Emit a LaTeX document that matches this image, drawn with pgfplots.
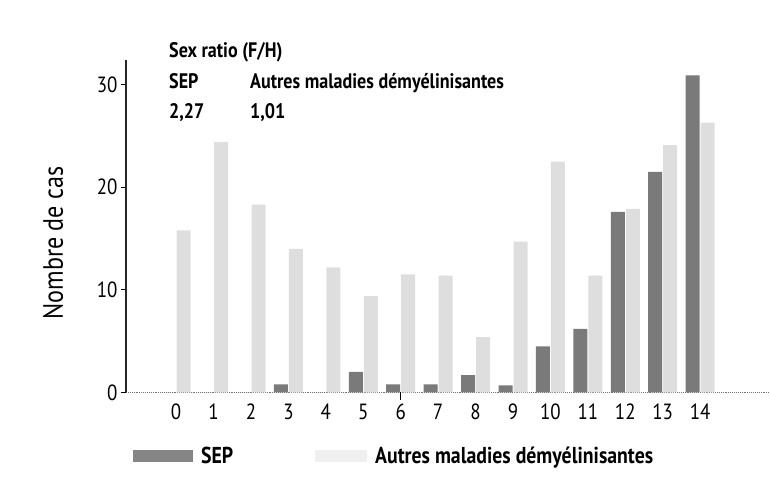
\documentclass[border=0pt]{standalone}
\usepackage{fontspec}
\setmainfont{PT Sans}[FakeStretch=0.86]
\usepackage{pgfplots}
\pgfplotsset{compat=1.18}
\pgfplotstableread{
x sep autres
0 0 15.8
1 0 24.4
2 0 18.3
3 0.8 14.0
4 0 12.2
5 2.0 9.4
6 0.8 11.5
7 0.8 11.4
8 1.7 5.4
9 0.7 14.7
10 4.5 22.5
11 6.2 11.4
12 17.6 17.9
13 21.5 24.1
14 30.9 26.3
}\datatable
\begin{document}
\begin{tikzpicture}
\useasboundingbox (-126pt,-93.5pt) rectangle (644pt,392.5pt);
\begin{axis}[
  at={(0pt,0pt)}, anchor=south west,
  width=643pt, height=332.5pt, scale only axis,
  xmin=-1.34, xmax=15.84, ymin=0, ymax=32.4,
  axis y line*=left, axis x line*=bottom, separate axis lines,
  y axis line style={line width=2pt, black!85},
  x axis line style={black!55, line width=0.9pt, densely dotted},
  ytick={0,10,20,30}, xtick={0,...,14},
  tick align=outside, major tick length=5pt,
  xtick style={draw=none},
  ytick style={line width=0.8pt, black},
  tick label style={font=\fontsize{22}{22}\selectfont},
  xticklabel style={yshift=-3pt},
  /pgf/number format/assume math mode=true,
  ybar=1pt, bar width=14pt,
  extra x ticks={6}, extra x tick labels={},
  extra x tick style={xtick style={draw=black, line width=0.8pt}, major tick length=7pt},
  legend style={at={(0.006,-0.19)}, anchor=west, draw=none, fill=none,
    legend columns=2, font=\fontsize{23}{23}\selectfont\bfseries,
    /tikz/every odd column/.append style={column sep=6pt},
    /tikz/every even column/.append style={column sep=80pt}},
]
\addplot[draw=none, fill=black!52,
  legend image code/.code={\fill[black!48] (0pt,-6pt) rectangle (60pt,6pt);}]
  table[x=x, y=sep] {\datatable};
\addlegendentry{SEP}
\addplot[draw=none, fill=black!13,
  legend image code/.code={\fill[black!6] (0pt,-6pt) rectangle (52pt,6pt);}]
  table[x=x, y=autres] {\datatable};
\addlegendentry{Autres maladies démyélinisantes}
\end{axis}
\begin{scope}[shift={(-126pt,-93.5pt)}]
\node[rotate=90, font=\fontsize{28}{28}\selectfont] at (53pt,243pt) {Nombre de cas};
\begin{scope}[every node/.style={anchor=base west, inner sep=0pt, font=\fontsize{21}{21}\selectfont\bfseries}]
\node at (169pt,428pt) {Sex ratio (F/H)};
\node at (169pt,397pt) {SEP};
\node at (250pt,397pt) {Autres maladies démyélinisantes};
\node at (169pt,367pt) {2,27};
\node at (250pt,367pt) {1,01};
\end{scope}
\end{scope}
\end{tikzpicture}
\end{document}
